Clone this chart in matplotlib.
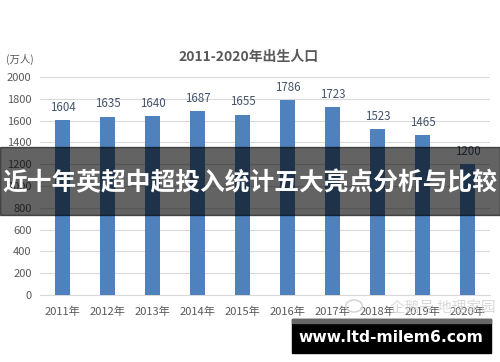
import matplotlib
matplotlib.use("Agg")
import matplotlib.pyplot as plt
from matplotlib.patches import Rectangle, Circle

plt.rcParams['font.family'] = ['Noto Sans CJK SC', 'DejaVu Sans']

# data
years = ['2011年', '2012年', '2013年', '2014年', '2015年',
         '2016年', '2017年', '2018年', '2019年', '2020年']
births = [1604, 1635, 1640, 1687, 1655, 1786, 1723, 1523, 1465, 1200]
yticks = [0, 200, 400, 600, 800, 1000, 1200, 1400, 1600, 1800, 2000]

bar_color = '#4f81bd'
grey_text = '#595959'

fig = plt.figure(figsize=(5, 3.62), dpi=100)
ax = fig.add_axes([0.08, 0.185, 0.90, 0.602])

x = range(len(years))
ax.bar(x, births, width=0.33, color=bar_color, zorder=3)
for xi, v in zip(x, births):
    ax.text(xi, v + 60, str(v), ha='center', va='bottom', fontsize=8.3,
            color='#44546a')

ax.set_xlim(-0.5, len(years) - 0.5)
ax.set_ylim(0, 2000)
ax.set_yticks(yticks)
ax.set_xticks(list(x))
ax.set_xticklabels(years)
ax.tick_params(axis='both', length=0, labelsize=8, labelcolor=grey_text)
ax.tick_params(axis='x', pad=8)
ax.tick_params(axis='y', pad=6)
ax.grid(axis='y', color='#d9d9d9', linewidth=0.8, zorder=0)
for s in ['top', 'right', 'left']:
    ax.spines[s].set_visible(False)
ax.spines['bottom'].set_color('#d9d9d9')

fig.text(0.498, 0.843, '2011-2020年出生人口', ha='center', va='center',
         fontsize=10, fontweight='bold', color=grey_text)
fig.text(0.012, 0.837, '(万人)', ha='left', va='center', fontsize=7.5,
         color=grey_text)

# faint watermark over the last year labels
fig.patches.append(Circle((354 / 500, 1 - 306 / 362), 6 / 362,
                          transform=fig.transFigure, fill=False,
                          edgecolor='#d0d0d0', linewidth=1.0, zorder=4))
fig.text(390 / 500, 1 - 308 / 362, '企鹅号 地理家园', ha='left', va='center',
         fontsize=10.5, color='#cccccc', alpha=0.75, zorder=4)

# dark banner across the middle
fig.patches.append(Rectangle((0, 1 - 215 / 362), 1, 68 / 362,
                             transform=fig.transFigure, color='black',
                             alpha=0.61, zorder=5))
fig.text(0.5, 1 - 183 / 362, '近十年英超中超投入统计五大亮点分析与比较',
         ha='center', va='center', fontsize=17.8, fontweight='bold',
         color='white', zorder=6)

# url box bottom right
fig.patches.append(Rectangle((292 / 500, 1 - 353 / 362), 199 / 500, 34 / 362,
                             transform=fig.transFigure, color='#000000',
                             zorder=5))
fig.patches.append(Rectangle((292 / 500, 1 - 323 / 362), 199 / 500, 4 / 362,
                             transform=fig.transFigure, color='#666666',
                             zorder=5))
fig.text(391 / 500, 1 - 337 / 362, 'www.ltd-milem6.com', ha='center',
         va='center', fontsize=11.2, fontweight='bold', color='white',
         family='DejaVu Sans', zorder=6)

fig.savefig('out.png', dpi=100)
